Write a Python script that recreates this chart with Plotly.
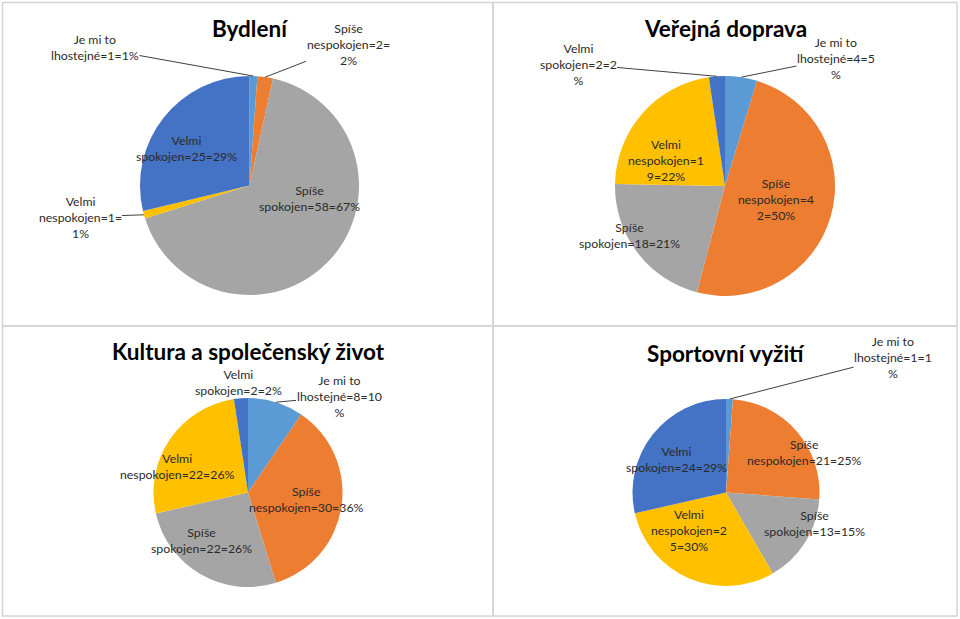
import math
import plotly.graph_objects as go

# ---------------- data ----------------
categories = ["Je mi to lhostejné", "Spíše nespokojen", "Spíše spokojen",
              "Velmi nespokojen", "Velmi spokojen"]
slice_colors = ["#5B9BD5", "#ED7D31", "#A5A5A5", "#FFC000", "#4472C4"]

titles = ["Bydlení", "Veřejná doprava", "Kultura a společenský život", "Sportovní vyžití"]

bydleni_counts = [1, 2, 58, 1, 25]
bydleni_pcts = [1, 2, 67, 1, 29]

doprava_counts = [4, 42, 18, 19, 2]
doprava_pcts = [5, 50, 21, 22, 2]

kultura_counts = [8, 30, 22, 22, 2]
kultura_pcts = [10, 36, 26, 26, 2]

sport_counts = [1, 21, 13, 25, 24]
sport_pcts = [1, 25, 15, 30, 29]

all_counts = [bydleni_counts, doprava_counts, kultura_counts, sport_counts]
all_pcts = [bydleni_pcts, doprava_pcts, kultura_pcts, sport_pcts]

# ---------------- layout geometry (pixels) ----------------
W, H = 960, 619
FONT = "Lato, Carlito, 'Open Sans', sans-serif"
LABEL_SIZE = 12.3
TITLE_SIZE = 22.5
TEXT_COLOR = "#2b2b2b"

# pie centre x, centre y, radius; title position
pie_geom = [
    dict(cx=249.5, cy=185.5, r=109.5, tx=249.5, ty=28),
    dict(cx=725.0, cy=186.0, r=110.0, tx=725.5, ty=28),
    dict(cx=248.0, cy=492.5, r=94.5, tx=248.0, ty=351.5),
    dict(cx=726.0, cy=492.5, r=93.5, tx=726.0, ty=353),
]
# label centre (x, y), wrap width in chars, leader line
label_geom = [
    [(95, 47.5, 14, True), (348, 45, 13, True), (309, 198, 15, False),
     (80, 217, 13, True), (186, 148, 15, False)],
    [(836, 58, 13, True), (776, 199, 12, False), (629, 236, 15, False),
     (666, 160, 12, False), (578, 64, 12, True)],
    [(339, 396.5, 14, True), (306, 499, 17, False), (201, 540, 15, False),
     (177.5, 466, 17, False), (239, 382, 13, True)],
    [(893, 357, 13, True), (804, 452.5, 17, False), (814, 523.5, 15, False),
     (689, 530, 12, False), (676, 460, 15, False)],
]
panels = [(2.5, 2.5, 493, 326), (493, 2.5, 957, 326),
          (2.5, 326, 493, 616), (493, 326, 957, 616)]


def px(x):
    return x / W


def py(y):
    return 1 - y / H


def wrap(text, width):
    lines, cur = [], ""
    for word in text.split(" "):
        while len(word) > width:
            if cur:
                lines.append(cur)
                cur = ""
            lines.append(word[:width])
            word = word[width:]
        if not cur:
            cur = word
        elif len(cur) + 1 + len(word) <= width:
            cur += " " + word
        else:
            lines.append(cur)
            cur = word
    if cur:
        lines.append(cur)
    return "<br>".join(lines)


fig = go.Figure()
annotations = []
shapes = []

for i in range(4):
    g = pie_geom[i]
    counts = all_counts[i]
    pcts = all_pcts[i]
    fig.add_trace(go.Pie(
        labels=categories, values=counts, sort=False, direction="clockwise",
        rotation=0, marker=dict(colors=slice_colors, line=dict(width=0)),
        textinfo="none", hoverinfo="label+value+percent",
        domain=dict(x=[px(g["cx"] - g["r"]), px(g["cx"] + g["r"])],
                    y=[py(g["cy"] + g["r"]), py(g["cy"] - g["r"])]),
        showlegend=False,
    ))
    annotations.append(dict(
        text="<b>" + titles[i] + "</b>", x=px(g["tx"]), y=py(g["ty"]),
        xref="paper", yref="paper", showarrow=False, xanchor="center", yanchor="middle",
        borderpad=0,
        font=dict(family=FONT, size=TITLE_SIZE, color="#000000")))
    total = sum(counts)
    cum = 0
    for j, cat in enumerate(categories):
        lx, ly, ww, leader = label_geom[i][j]
        txt = wrap(f"{cat}={counts[j]}={pcts[j]}%", ww)
        mid = 2 * math.pi * (cum + counts[j] / 2) / total
        cum += counts[j]
        if leader:
            tipx = g["cx"] + g["r"] * math.sin(mid)
            tipy = g["cy"] - g["r"] * math.cos(mid)
            annotations.append(dict(
                text=txt, x=px(tipx), y=py(tipy), xref="paper", yref="paper",
                showarrow=True, arrowhead=0, arrowwidth=1, arrowcolor="#404040",
                ax=lx - tipx, ay=ly - tipy, xanchor="center", yanchor="middle",
                align="center", standoff=0, borderpad=0,
                font=dict(family=FONT, size=LABEL_SIZE, color=TEXT_COLOR)))
        else:
            annotations.append(dict(
                text=txt, x=px(lx), y=py(ly), xref="paper", yref="paper",
                showarrow=False, xanchor="center", yanchor="middle", align="center",
                borderpad=0,
                font=dict(family=FONT, size=LABEL_SIZE, color=TEXT_COLOR)))

for (x0, y0, x1, y1) in panels:
    shapes.append(dict(type="rect", xref="paper", yref="paper",
                       x0=px(x0), x1=px(x1), y0=py(y1), y1=py(y0),
                       line=dict(color="#d4d4d4", width=1.5), layer="below"))

fig.update_layout(
    width=W, height=H, margin=dict(l=0, r=0, t=0, b=0),
    paper_bgcolor="white", plot_bgcolor="white",
    annotations=annotations, shapes=shapes, showlegend=False,
    font=dict(family=FONT, color=TEXT_COLOR),
)

fig.write_html("out.html", config={"displayModeBar": False},
               post_script="document.body.style.margin='0';document.body.style.overflow='hidden';")
